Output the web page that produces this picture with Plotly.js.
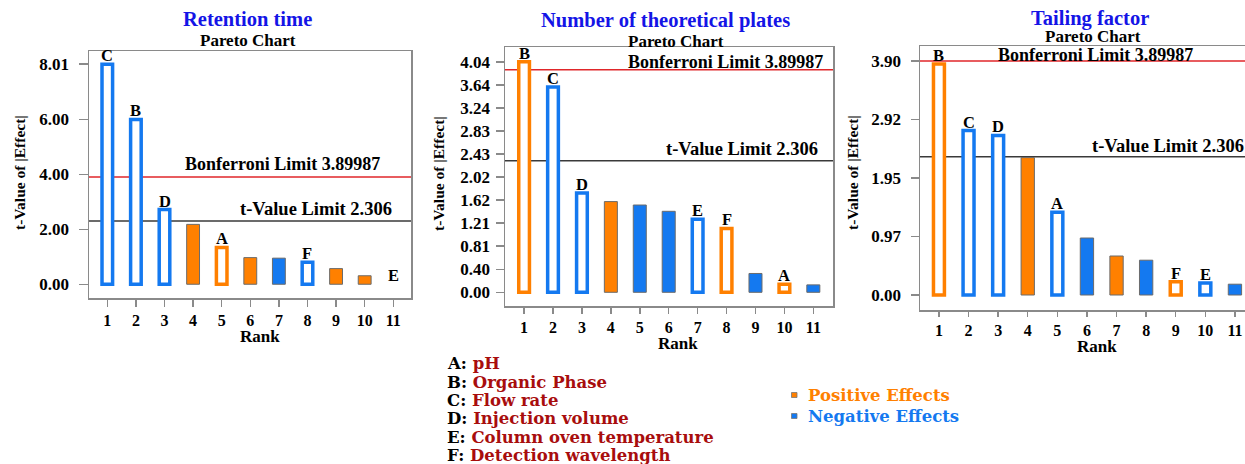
<!DOCTYPE html>
<html>
<head>
<meta charset="utf-8">
<script src="https://cdn.plot.ly/plotly-3.0.1.min.js"></script>
<style>
  html, body { margin: 0; padding: 0; background: #ffffff; overflow: hidden; }
  #chart { width: 1245px; height: 464px; }
</style>
</head>
<body>
<div id="chart"></div>
<script>
// ---------------- DATA ----------------
const ranks = [1, 2, 3, 4, 5, 6, 7, 8, 9, 10, 11];
const rankLabels = ['1', '2', '3', '4', '5', '6', '7', '8', '9', '10', '11'];

// Retention time
const rtValues = [8.01, 6.00, 2.72, 2.18, 1.34, 0.97, 0.95, 0.80, 0.57, 0.31, 0];
const rtTerms  = ['C', 'B', 'D', '', 'A', '', '', 'F', '', '', 'E'];
const rtSigns  = ['-', '-', '-', '+', '+', '+', '-', '-', '+', '+', '-'];
const rtTickVals = [0, 2, 4, 6, 8.01];
const rtTickText = ['0.00', '2.00', '4.00', '6.00', '8.01'];

// Number of theoretical plates
const ntpValues = [4.04, 3.60, 1.74, 1.59, 1.53, 1.42, 1.28, 1.12, 0.33, 0.14, 0.13];
const ntpTerms  = ['B', 'C', 'D', '', '', '', 'E', 'F', '', 'A', ''];
const ntpSigns  = ['+', '-', '-', '+', '-', '-', '-', '+', '-', '+', '-'];
const ntpTickVals = [0, 0.404, 0.808, 1.212, 1.616, 2.02, 2.424, 2.828, 3.232, 3.636, 4.04];
const ntpTickText = ['0.00', '0.40', '0.81', '1.21', '1.62', '2.02', '2.43', '2.83', '3.24', '3.64', '4.04'];

// Tailing factor
const tfValues = [3.85, 2.74, 2.66, 2.29, 1.38, 0.95, 0.65, 0.58, 0.22, 0.20, 0.18];
const tfTerms  = ['B', 'C', 'D', '', 'A', '', '', '', 'F', 'E', ''];
const tfSigns  = ['+', '-', '-', '+', '-', '-', '+', '-', '+', '-', '-'];
const tfTickVals = [0, 0.975, 1.95, 2.925, 3.90];
const tfTickText = ['0.00', '0.97', '1.95', '2.92', '3.90'];

const bonferroniLimit = 3.89987;
const tValueLimit = 2.306;

const panelTitles = ['Retention time', 'Number of theoretical plates', 'Tailing factor'];
const factorLetters = ['A', 'B', 'C', 'D', 'E', 'F'];
const factorNames = ['pH', 'Organic Phase', 'Flow rate', 'Injection volume', 'Column oven temperature', 'Detection wavelength'];
const effectLabels = ['Positive Effects', 'Negative Effects'];

// ---------------- STYLE ----------------
const W = 1245, H = 464;
const ORANGE = '#ff8000';
const BLUE = '#1479f0';
const SERIF = 'Liberation Serif, Times New Roman, serif';
const WIDE = 'DejaVu Serif, serif';
const px = v => v / W;
const py = v => 1 - v / H;

const panels = [
  { values: rtValues, terms: rtTerms, signs: rtSigns, tv: rtTickVals, tt: rtTickText,
    dom: [89, 411, 51, 298], xr: [0.36, 11.62], yr: [-0.50, 8.49],
    title: [247, 19], sub: [248, 40.5], bon: [282, 164, 'center'], tl: [316, 209, 'center'],
    ytitle: [20, 173], rank: [260, 336], ticklen: 9, standoff: 6, xticklen: 7 },
  { values: ntpValues, terms: ntpTerms, signs: ntpSigns, tv: ntpTickVals, tt: ntpTickText,
    dom: [505, 833, 47, 306], xr: [0.34, 11.68], yr: [-0.24, 4.30],
    title: [665, 21], sub: [676, 41], bon: [725, 62, 'center'], tl: [742, 149, 'center'],
    ytitle: [438, 174], rank: [678, 343], ticklen: 8, standoff: 2, xticklen: 6 },
  { values: tfValues, terms: tfTerms, signs: tfSigns, tv: tfTickVals, tt: tfTickText,
    dom: [920, 1245, 46, 310], xr: [0.36, 11.34], yr: [-0.25, 4.15],
    title: [1090, 18], sub: [1093, 36.5], bon: [1095, 54.5, 'center'], tl: [1091, 146, 'left'],
    ytitle: [853, 173], rank: [1097, 346], ticklen: 8, standoff: 6, xticklen: 5 }
];

const traces = [];
const annotations = [];
const shapes = [];
const layout = {
  width: W, height: H, autosize: false,
  margin: { l: 0, r: 0, t: 0, b: 0, pad: 0 },
  paper_bgcolor: '#ffffff', plot_bgcolor: '#ffffff',
  showlegend: false, barmode: 'overlay',
  font: { family: SERIF, color: '#000' }
};

panels.forEach((p, i) => {
  const n = i === 0 ? '' : String(i + 1);
  const xa = 'x' + n, ya = 'y' + n;
  const hollow = p.terms.map(t => t !== '');
  const col = p.signs.map(s => (s === '+' ? ORANGE : BLUE));
  traces.push({
    type: 'bar', x: ranks, y: p.values, xaxis: xa, yaxis: ya,
    width: hollow.map(h => (h ? 0.37 : 0.45)),
    marker: {
      color: hollow.map((h, k) => (h ? '#ffffff' : col[k])),
      line: {
        color: hollow.map((h, k) => (h ? col[k] : '#6b6b6b')),
        width: hollow.map((h, k) => (p.values[k] === 0 ? 0 : (h ? 3.5 : 1)))
      }
    },
    hoverinfo: 'skip'
  });

  layout['xaxis' + n] = {
    domain: [px(p.dom[0]), px(p.dom[1])], anchor: ya, range: p.xr,
    showgrid: false, zeroline: false, showline: true, mirror: true,
    linecolor: '#8a8a8a', linewidth: 1.5,
    ticks: 'outside', ticklen: p.xticklen, tickwidth: 1.5, tickcolor: '#8a8a8a',
    tickvals: ranks, ticktext: rankLabels,
    tickfont: { family: SERIF, size: 16, color: '#000', weight: 'bold' }
  };
  layout['yaxis' + n] = {
    domain: [py(p.dom[3]), py(p.dom[2])], anchor: xa, range: p.yr,
    showgrid: false, zeroline: false, showline: true, mirror: i < 2,
    linecolor: '#8a8a8a', linewidth: 1.5,
    ticks: 'outside', ticklen: p.ticklen, tickwidth: 1.5, tickcolor: '#8a8a8a',
    ticklabelstandoff: p.standoff,
    tickvals: p.tv, ticktext: p.tt,
    tickfont: { family: SERIF, size: 17, color: '#000', weight: 'bold' }
  };

  // limit lines
  shapes.push({ type: 'line', xref: xa + ' domain', yref: ya, x0: 0, x1: 1, y0: bonferroniLimit, y1: bonferroniLimit,
    line: { color: '#e0262a', width: 1.5 }, layer: 'below' });
  shapes.push({ type: 'line', xref: xa + ' domain', yref: ya, x0: 0, x1: 1, y0: tValueLimit, y1: tValueLimit,
    line: { color: '#3a3a3a', width: 1.5 }, layer: 'below' });

  // titles
  annotations.push({ xref: 'paper', yref: 'paper', x: px(p.title[0]), y: py(p.title[1]), xanchor: 'center', yanchor: 'middle',
    text: '<b>' + panelTitles[i] + '</b>', showarrow: false, borderpad: 0, font: { family: SERIF, size: 20.5, color: '#1414e6' } });
  annotations.push({ xref: 'paper', yref: 'paper', x: px(p.sub[0]), y: py(p.sub[1]), xanchor: 'center', yanchor: 'middle',
    text: '<b>Pareto Chart</b>', showarrow: false, borderpad: 0, font: { family: SERIF, size: 17, color: '#000' } });
  // limit labels
  annotations.push({ xref: 'paper', yref: 'paper', x: px(p.bon[0]), y: py(p.bon[1]), xanchor: p.bon[2], yanchor: 'middle',
    text: '<b>Bonferroni Limit ' + bonferroniLimit + '</b>', showarrow: false, borderpad: 0, font: { family: SERIF, size: 18, color: '#000' } });
  annotations.push({ xref: 'paper', yref: 'paper', x: px(p.tl[0]), y: py(p.tl[1]), xanchor: p.tl[2], yanchor: 'middle',
    text: '<b>t-Value Limit ' + tValueLimit + '</b>', showarrow: false, borderpad: 0, font: { family: SERIF, size: 18.5, color: '#000' } });
  // axis titles
  annotations.push({ xref: 'paper', yref: 'paper', x: px(p.ytitle[0]), y: py(p.ytitle[1]), xanchor: 'center', yanchor: 'middle',
    textangle: -90, text: '<b>t-Value of |Effect|</b>', showarrow: false, font: { family: SERIF, size: 15.5, color: '#000' } });
  annotations.push({ xref: 'paper', yref: 'paper', x: px(p.rank[0]), y: py(p.rank[1]), xanchor: 'center', yanchor: 'middle',
    text: '<b>Rank</b>', showarrow: false, borderpad: 0, font: { family: SERIF, size: 17, color: '#000' } });
  // term letters
  p.terms.forEach((t, k) => {
    if (!t) return;
    annotations.push({ xref: xa, yref: ya, x: ranks[k], y: p.values[k], xanchor: 'center', yanchor: 'bottom',
      yshift: -3, text: '<b>' + t + '</b>', showarrow: false, font: { family: SERIF, size: 16.5, color: '#000' } });
  });
});

// factor key
factorLetters.forEach((L, k) => {
  annotations.push({ xref: 'paper', yref: 'paper', x: px(446), y: py(363.7 + k * 18.33), xanchor: 'left', yanchor: 'middle',
    text: '<b>' + L + ': <span style="color:#a80d0d">' + factorNames[k] + '</span></b>', showarrow: false, borderpad: 0,
    font: { family: WIDE, size: 16.5, color: '#000' } });
});

// effects key
const effColors = [ORANGE, BLUE];
const effY = [395, 416];
effectLabels.forEach((lab, k) => {
  shapes.push({ type: 'rect', xref: 'paper', yref: 'paper', x0: px(791.5), x1: px(797), y0: py(effY[k] + 2.5), y1: py(effY[k] - 2.5),
    fillcolor: effColors[k], line: { color: '#777', width: 0.8 } });
  annotations.push({ xref: 'paper', yref: 'paper', x: px(806), y: py(effY[k]), xanchor: 'left', yanchor: 'middle',
    text: '<b>' + lab + '</b>', showarrow: false, font: { family: WIDE, size: 16.5, color: effColors[k] } });
});

layout.annotations = annotations;
layout.shapes = shapes;

Plotly.newPlot('chart', traces, layout, { displayModeBar: false, staticPlot: true });
</script>
</body>
</html>
